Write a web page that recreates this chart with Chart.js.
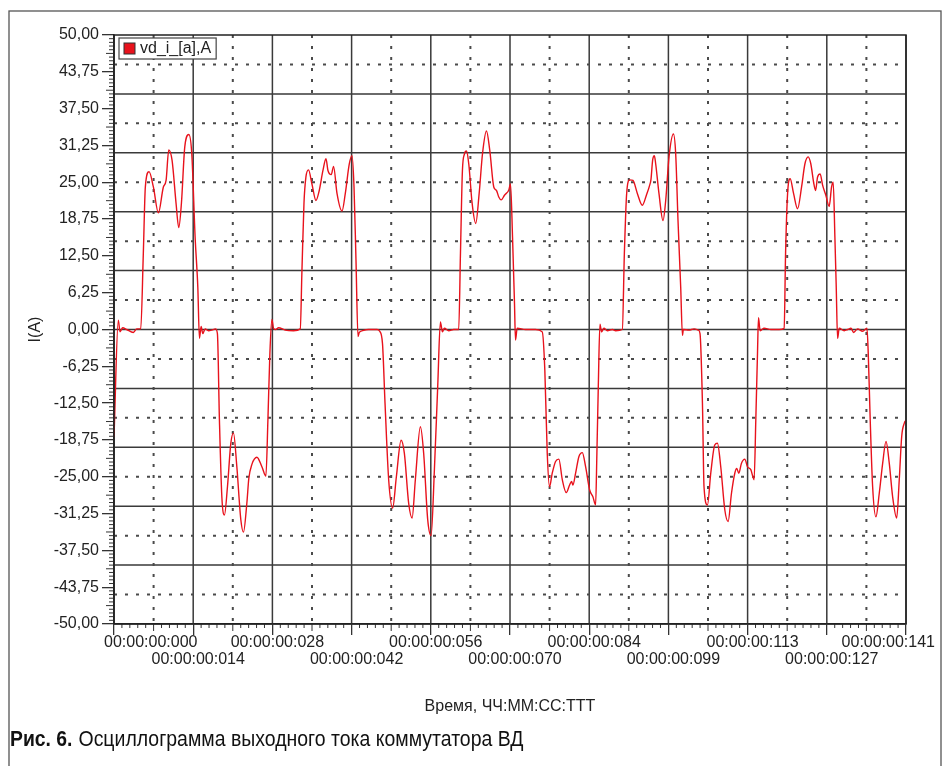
<!DOCTYPE html>
<html>
<head>
<meta charset="utf-8">
<script src="https://cdn.jsdelivr.net/npm/chart.js@4.4.1/dist/chart.umd.min.js"></script>
<style>
  html, body { margin: 0; padding: 0; background: #fff; }
  canvas { display: block; }
</style>
</head>
<body>
<canvas id="osc" width="945" height="766"></canvas>
<script>
// Phase current of the commutator (time in ms, current in A)
const timeMs = [
  0, 0.77, 1.07, 1.55, 2.26, 3.44, 4.05, 4.76, 5.22, 5.58, 6.24, 7.01, 7.90, 8.79, 9.27, 9.75,
  10.34, 11.05, 11.53, 12.00, 12.60, 13.32, 13.85, 14.44, 14.92, 15.21, 15.51, 15.81, 16.22, 16.81,
  17.42, 18.06, 18.41, 18.77, 19.20, 19.66, 20.20, 20.80, 21.27, 21.87, 22.58, 23.05, 23.65, 24.00,
  24.55, 25.44, 26.33, 27.04, 27.40, 27.75, 28.11, 28.40, 28.82, 29.29, 30.48, 31.96, 33.16, 33.46,
  33.82, 34.17, 34.63, 35.24, 35.95, 36.54, 37.20, 37.74, 38.09, 38.68, 39.09, 39.70, 40.59, 41.18,
  41.89, 42.37, 42.73, 43.08, 43.44, 43.67, 44.26, 45.33, 46.83, 47.30, 47.80, 48.25, 48.90, 49.61,
  50.27, 51.11, 51.69, 52.46, 53.07, 53.65, 54.55, 55.13, 55.85, 56.45, 57.04, 57.63, 58.11, 58.47,
  58.82, 59.59, 60.48, 61.37, 61.68, 62.03, 62.39, 62.75, 63.16, 63.76, 64.40, 65.01, 65.60, 66.31,
  66.90, 67.61, 68.09, 68.50, 68.93, 69.52, 70.29, 70.59, 70.95, 71.30, 71.48, 71.78, 73.26, 75.05,
  76.24, 76.70, 77.13, 77.54, 78.02, 78.61, 79.20, 79.81, 80.52, 81.11, 81.46, 81.70, 82.18, 82.76,
  83.37, 83.96, 84.67, 85.26, 85.74, 85.97, 86.22, 86.51, 86.81, 87.22, 87.83, 88.72, 89.31, 90.50,
  90.86, 91.27, 91.80, 92.39, 93.17, 94.06, 94.78, 95.37, 95.60, 95.90, 96.20, 96.44, 97.02, 97.74,
  98.22, 98.81, 99.59, 100.00, 100.41, 100.89, 101.20, 101.37, 102.37, 103.26, 104.05, 104.33, 104.76,
  105.04, 105.65, 106.24, 106.95, 107.43, 108.02, 108.74, 109.33, 109.93, 110.52, 110.87, 111.23,
  111.71, 112.30, 112.78, 113.37, 113.96, 114.26, 114.56, 114.74, 115.03, 115.74, 116.94, 118.41,
  119.31, 119.56, 119.92, 120.38, 120.98, 121.70, 122.41, 123.00, 123.58, 124.06, 124.55, 124.90,
  125.26, 125.72, 126.15, 126.73, 127.32, 127.75, 128.04, 128.34, 128.58, 128.82, 129.11, 130.00,
  130.61, 131.20, 131.68, 132.39, 133.28, 134.05, 134.28, 134.63, 135.06, 135.65, 136.24, 136.85,
  137.44, 138.02, 138.62, 139.34, 139.80, 140.23, 140.70, 141.00
];
const currentA = [
  -18.2, 1.6, -0.4, 0.3, 0, -0.5, 0.1, 0.1, 12.9, 24.2, 26.8, 24.2, 19.8, 24.2, 25.3, 30.5,
  28.7, 21.4, 17.3, 21.4, 31.0, 33.1, 29.8, 15.7, 7.2, -1.5, 0.5, -0.7, 0.1, -0.2,
  -0.1, 0.1, -0.7, -15.4, -28.4, -31.5, -26.7, -19.3, -17.6, -23.3, -32.3, -34.4, -29.5, -25.3,
  -22.9, -21.7, -23.3, -24.9, -15.4, -4.1, 1.7, 0.2, 0, 0.3, -0.1, -0.2, 0.1, 10.0,
  21.4, 25.9, 27.1, 24.7, 21.9, 23.6, 27.0, 29.0, 27.0, 26.3, 27.7, 23.1, 20.1, 23.1,
  28.1, 29.5, 24.2, 11.8, -1.2, -0.5, -0.2, 0, 0, -0.3, -2.4, -12.5, -25.5, -30.3,
  -25.0, -18.8, -21.0, -29.5, -32.0, -25.5, -16.5, -21.0, -32.3, -35.0, -23.8, -9.7, 1.3, -0.4,
  0.2, -0.2, 0, 0, 12.9, 27.0, 29.8, 30.3, 28.1, 21.4, 18.0, 23.1, 29.8, 33.7,
  30.4, 24.2, 23.6, 22.5, 22.0, 22.8, 23.7, 24.7, 15.7, 4.4, -1.8, 0.2, 0, 0,
  -0.4, -6.9, -21.0, -26.7, -24.4, -22.4, -22.0, -25.5, -27.7, -26.4, -25.8, -26.4, -24.4, -21.6,
  -20.9, -23.3, -27.2, -28.4, -29.8, -21.0, -9.7, 0.9, -0.4, 0.2, -0.2, 0, -0.2, 0,
  12.9, 23.1, 25.4, 25.3, 23.1, 21.1, 22.8, 24.5, 25.5, 28.8, 29.5, 28.1, 23.1, 18.5,
  21.9, 29.3, 33.2, 29.8, 18.5, 7.2, -1.0, 0, -0.1, 0.1, -0.1, -0.7, -12.5,
  -26.7, -29.8, -24.4, -19.6, -19.3, -23.3, -30.6, -32.6, -27.8, -24.4, -23.6, -24.4,
  -22.7, -22.0, -23.3, -23.8, -25.5, -15.4, -4.1, 2.0, -0.2, 0.2, 0, 0,
  0.2, 12.9, 23.1, 25.6, 23.1, 20.5, 24.2, 28.1, 29.3, 28.1, 25.0, 23.6,
  25.9, 26.4, 24.5, 22.8, 20.9, 24.2, 25.0, 15.7, 7.2, -1.5, 0.2, -0.2,
  0, 0.2, -0.5, 0.1, -0.3, 0.2, -4.1, -15.4, -26.7, -31.8, -27.8, -22.7,
  -19.0, -22.7, -28.4, -32.0, -25.5, -18.2, -15.9, -15.4
];

const xTickValues = [0, 14.1, 28.2, 42.3, 56.4, 70.5, 84.6, 98.7, 112.8, 126.9, 141];
const xTickLabels = [
  '00:00:00:000', '00:00:00:014', '00:00:00:028', '00:00:00:042', '00:00:00:056', '00:00:00:070',
  '00:00:00:084', '00:00:00:099', '00:00:00:113', '00:00:00:127', '00:00:00:141'
];
const yTickValues = [-50, -43.75, -37.5, -31.25, -25, -18.75, -12.5, -6.25, 0,
  6.25, 12.5, 18.75, 25, 31.25, 37.5, 43.75, 50];
const yTickLabels = ['-50,00', '-43,75', '-37,50', '-31,25', '-25,00', '-18,75', '-12,50', '-6,25', '0,00',
  '6,25', '12,50', '18,75', '25,00', '31,25', '37,50', '43,75', '50,00'];
const yGridSolid = [-40, -30, -20, -10, 0, 10, 20, 30, 40];
const yGridDotted = [-45, -35, -25, -15, -5, 5, 15, 25, 35, 45];

const seriesLabel = 'vd_i_[a],A';
const xTitle = 'Время, ЧЧ:ММ:СС:ТТТ';
const yTitle = 'I(A)';
const captionBold = 'Рис. 6.';
const captionText = 'Осциллограмма выходного тока коммутатора ВД';

const FONT = '"Liberation Sans", Arial, sans-serif';
const LINE_RED = '#e8121c';
const INK = '#222';

// grid, minor ticks, frame, legend, two-row time labels and caption
const scopePlugin = {
  id: 'scope',
  beforeDatasetsDraw(chart) {
    const { ctx, chartArea: a, scales: { x, y } } = chart;
    ctx.save();

    ctx.strokeStyle = '#3a3a3a';
    ctx.lineWidth = 1.5;
    ctx.beginPath();
    for (const v of xTickValues) {
      const px = x.getPixelForValue(v);
      ctx.moveTo(px, a.top);
      ctx.lineTo(px, a.bottom);
    }
    for (const v of yGridSolid) {
      const py = y.getPixelForValue(v);
      ctx.moveTo(a.left, py);
      ctx.lineTo(a.right, py);
    }
    ctx.stroke();

    ctx.setLineDash([3, 8]);
    ctx.lineWidth = 2;
    ctx.strokeStyle = '#4a4a4a';
    ctx.beginPath();
    for (let i = 0; i < xTickValues.length - 1; i++) {
      const px = x.getPixelForValue((xTickValues[i] + xTickValues[i + 1]) / 2);
      ctx.moveTo(px, a.top);
      ctx.lineTo(px, a.bottom);
    }
    for (const v of yGridDotted) {
      const py = y.getPixelForValue(v);
      ctx.moveTo(a.left, py);
      ctx.lineTo(a.right, py);
    }
    ctx.stroke();
    ctx.setLineDash([]);

    // minor ticks, 10 per division
    ctx.lineWidth = 1;
    ctx.strokeStyle = '#333';
    ctx.beginPath();
    for (let i = 0; i < xTickValues.length - 1; i++) {
      const step = (xTickValues[i + 1] - xTickValues[i]) / 10;
      for (let k = 1; k < 10; k++) {
        const px = x.getPixelForValue(xTickValues[i] + k * step);
        ctx.moveTo(px, a.bottom);
        ctx.lineTo(px, a.bottom + (k === 5 ? 7 : 4));
      }
    }
    for (let i = 0; i < yTickValues.length - 1; i++) {
      const step = (yTickValues[i + 1] - yTickValues[i]) / 10;
      for (let k = 1; k < 10; k++) {
        const py = y.getPixelForValue(yTickValues[i] + k * step);
        ctx.moveTo(a.left - (k === 5 ? 8 : 5), py);
        ctx.lineTo(a.left, py);
      }
    }
    ctx.stroke();
    ctx.restore();
  },

  afterDatasetsDraw(chart) {
    const { ctx, chartArea: a } = chart;
    ctx.save();
    ctx.strokeStyle = '#222';
    ctx.lineWidth = 1.5;
    ctx.strokeRect(a.left, a.top, a.right - a.left, a.bottom - a.top);

    // legend box
    ctx.font = '16px ' + FONT;
    const tw = ctx.measureText(chart.data.datasets[0].label).width;
    const lx = a.left + 5, ly = a.top + 3;
    ctx.fillStyle = '#fff';
    ctx.fillRect(lx, ly, tw + 26, 21);
    ctx.strokeStyle = '#444';
    ctx.lineWidth = 1.2;
    ctx.strokeRect(lx, ly, tw + 26, 21);
    ctx.fillStyle = LINE_RED;
    ctx.fillRect(lx + 5, ly + 5, 11, 11);
    ctx.strokeStyle = '#333';
    ctx.lineWidth = 1;
    ctx.strokeRect(lx + 5, ly + 5, 11, 11);
    ctx.fillStyle = INK;
    ctx.textBaseline = 'middle';
    ctx.fillText(chart.data.datasets[0].label, lx + 21, ly + 11);
    ctx.restore();
  },

  afterDraw(chart) {
    const { ctx, chartArea: a, scales: { x } } = chart;
    ctx.save();
    ctx.font = '16px ' + FONT;
    ctx.fillStyle = INK;
    ctx.textBaseline = 'middle';
    xTickValues.forEach((v, i) => {
      const text = xTickLabels[i];
      const w = ctx.measureText(text).width;
      let left = x.getPixelForValue(v) + 5 - w / 2;
      left = Math.max(a.left - 10, Math.min(left, a.right + 29 - w));
      ctx.fillText(text, left, a.bottom + (i % 2 ? 36 : 19));
    });

    // caption, condensed face
    ctx.textBaseline = 'alphabetic';
    ctx.fillStyle = '#111';
    ctx.font = 'bold 22px ' + FONT;
    ctx.save();
    ctx.translate(10, 746);
    ctx.scale(0.88, 1);
    ctx.fillText(captionBold, 0, 0);
    const bw = ctx.measureText(captionBold).width * 0.88;
    ctx.restore();
    ctx.font = '22px ' + FONT;
    ctx.save();
    ctx.translate(10 + bw + 6, 746);
    ctx.scale(0.885, 1);
    ctx.fillText(captionText, 0, 0);
    ctx.restore();

    // outer frame
    ctx.strokeStyle = '#555';
    ctx.lineWidth = 1.3;
    ctx.strokeRect(9, 11, 932, 800);
    ctx.restore();
  }
};

new Chart(document.getElementById('osc'), {
  type: 'line',
  data: {
    datasets: [{
      label: seriesLabel,
      data: timeMs.map((t, i) => ({ x: t, y: currentA[i] })),
      borderColor: LINE_RED,
      borderWidth: 1.4,
      pointRadius: 0,
      cubicInterpolationMode: 'monotone',
      fill: false
    }]
  },
  options: {
    responsive: false,
    animation: false,
    devicePixelRatio: 1,
    layout: { padding: { left: 22, right: 39, top: 35, bottom: 46 } },
    plugins: { legend: { display: false }, tooltip: { enabled: false } },
    scales: {
      x: {
        type: 'linear',
        min: 0,
        max: 141,
        afterBuildTicks: (s) => { s.ticks = xTickValues.map((v) => ({ value: v })); },
        afterFit: (s) => { s.height = 96; s.paddingLeft = 0; s.paddingRight = 0; },
        ticks: { display: false, autoSkip: false },
        grid: { drawOnChartArea: false, tickLength: 11, color: '#333', lineWidth: 1.3 },
        border: { display: true, color: '#222', width: 1.5 },
        title: { display: true, text: xTitle, color: INK, font: { family: FONT, size: 16 } }
      },
      y: {
        min: -50,
        max: 50,
        afterBuildTicks: (s) => { s.ticks = yTickValues.map((v) => ({ value: v })); },
        afterFit: (s) => { s.width = 92; },
        ticks: {
          autoSkip: false,
          padding: 3,
          color: INK,
          font: { family: FONT, size: 16 },
          callback: (value, index) => yTickLabels[index]
        },
        grid: { drawOnChartArea: false, tickLength: 12, color: '#333', lineWidth: 1.3 },
        border: { display: true, color: '#222', width: 1.5 },
        title: { display: true, text: yTitle, color: INK, font: { family: FONT, size: 16 } }
      }
    }
  },
  plugins: [scopePlugin]
});
</script>
</body>
</html>
